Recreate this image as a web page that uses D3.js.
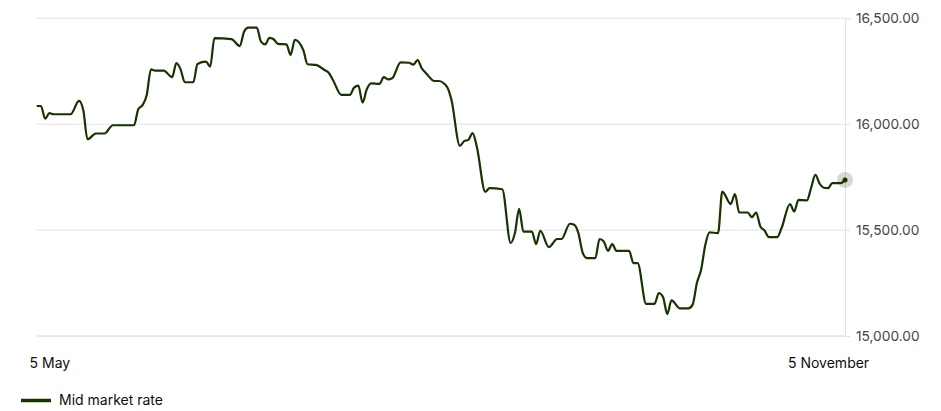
<!DOCTYPE html>
<html>
<head>
<meta charset="utf-8">
<script src="https://cdn.jsdelivr.net/npm/d3@7/dist/d3.min.js"></script>
<style>
  html, body { margin: 0; padding: 0; background: #fff; }
  svg { display: block; font-family: Inter, "Noto Sans", sans-serif; }
</style>
</head>
<body>
<svg id="chart" width="941" height="411"></svg>
<script>
const dates = [
  "2023-05-02","2023-05-03","2023-05-04","2023-05-05","2023-05-06","2023-05-10","2023-05-12","2023-05-13",
  "2023-05-14","2023-05-16","2023-05-18","2023-05-20","2023-05-25","2023-05-26","2023-05-27","2023-05-28",
  "2023-05-29","2023-05-30","2023-06-01","2023-06-03","2023-06-04","2023-06-05","2023-06-06","2023-06-08",
  "2023-06-09","2023-06-11","2023-06-12","2023-06-13","2023-06-17","2023-06-19","2023-06-20","2023-06-21",
  "2023-06-23","2023-06-24","2023-06-25","2023-06-26","2023-06-27","2023-06-28","2023-06-30","2023-07-01",
  "2023-07-02","2023-07-04","2023-07-05","2023-07-07","2023-07-09","2023-07-10","2023-07-11","2023-07-13",
  "2023-07-15","2023-07-16","2023-07-17","2023-07-18","2023-07-19","2023-07-20","2023-07-22","2023-07-23",
  "2023-07-24","2023-07-25","2023-07-27","2023-07-29","2023-07-30","2023-07-31","2023-08-01","2023-08-02",
  "2023-08-04","2023-08-05","2023-08-07","2023-08-08","2023-08-10","2023-08-11","2023-08-12","2023-08-13",
  "2023-08-14","2023-08-16","2023-08-17","2023-08-20","2023-08-22","2023-08-23","2023-08-24","2023-08-25",
  "2023-08-27","2023-08-28","2023-08-29","2023-08-31","2023-09-02","2023-09-03","2023-09-05","2023-09-06",
  "2023-09-07","2023-09-08","2023-09-09","2023-09-11","2023-09-12","2023-09-13","2023-09-14","2023-09-15",
  "2023-09-16","2023-09-19","2023-09-20","2023-09-21","2023-09-23","2023-09-25","2023-09-26","2023-09-27",
  "2023-09-28","2023-09-29","2023-10-01","2023-10-03","2023-10-04","2023-10-05","2023-10-06","2023-10-07",
  "2023-10-08","2023-10-10","2023-10-11","2023-10-13","2023-10-14","2023-10-15","2023-10-17","2023-10-18",
  "2023-10-19","2023-10-20","2023-10-21","2023-10-22","2023-10-24","2023-10-25","2023-10-27","2023-10-28",
  "2023-10-29","2023-10-31","2023-11-01","2023-11-02","2023-11-03","2023-11-04","2023-11-05","2023-11-06",
  "2023-11-08","2023-11-09"
];
const rates = [
  16086,16086,16026,16052,16047,16047,16110,16067,
  15929,15956,15956,15995,15995,16071,16090,16138,
  16259,16253,16253,16222,16288,16259,16198,16198,
  16284,16295,16272,16406,16402,16369,16437,16456,
  16456,16390,16377,16408,16401,16379,16377,16327,
  16398,16350,16283,16280,16256,16243,16209,16138,
  16138,16173,16182,16102,16165,16193,16190,16222,
  16212,16217,16292,16290,16281,16303,16264,16241,
  16204,16204,16175,16115,15898,15920,15926,15958,
  15894,15681,15698,15693,15439,15486,15600,15493,
  15493,15434,15497,15420,15458,15458,15530,15525,
  15486,15394,15368,15368,15458,15446,15402,15434,
  15402,15402,15344,15344,15152,15152,15203,15184,
  15104,15168,15130,15130,15148,15250,15313,15431,
  15489,15486,15682,15623,15670,15583,15583,15561,
  15583,15517,15498,15467,15467,15509,15623,15588,
  15643,15640,15700,15761,15720,15700,15698,15722,
  15722,15737
];
const yTicks = [15000, 15500, 16000, 16500];
const xTickDates = ["2023-05-05", "2023-11-05"];
const xTickLabels = ["5 May", "5 November"];
const seriesName = "Mid market rate";

const parse = d3.timeParse("%Y-%m-%d");
const data = dates.map((d, i) => ({ date: parse(d), value: rates[i] }));

const svg = d3.select("#chart");
const plotLeft = 36.7, plotRight = 845, plotTop = 18.3, plotBottom = 336;
const lineColor = "#163300";

const x = d3.scaleTime().domain(d3.extent(data, d => d.date)).range([plotLeft, plotRight]);
const y = d3.scaleLinear().domain([15000, 16500]).range([plotBottom, plotTop]);

// gridlines
svg.append("g").selectAll("line").data(yTicks).join("line")
  .attr("x1", plotLeft).attr("x2", plotRight)
  .attr("y1", d => y(d)).attr("y2", d => y(d))
  .attr("stroke", d => d === 15000 ? "#d4d4d4" : "#e2e2e2")
  .attr("stroke-width", 1);

// right axis
const yAxis = d3.axisRight(y).tickValues(yTicks).tickSize(5).tickPadding(6)
  .tickFormat(d3.format(",.2f"));
const gy = svg.append("g").attr("transform", `translate(${plotRight},0)`).call(yAxis);
gy.select(".domain").attr("stroke", "#e2e2e2");
gy.selectAll(".tick line").attr("stroke", "#e2e2e2");
gy.selectAll(".tick text").attr("fill", "#454745").style("font-size", "13.7px")
  .style("font-family", "Inter, 'Noto Sans', sans-serif");

// bottom labels
const xAxis = d3.axisBottom(x).tickValues(xTickDates.map(parse))
  .tickFormat((d, i) => xTickLabels[i]).tickSize(0).tickPadding(22);
const gx = svg.append("g").attr("transform", `translate(0,${plotBottom})`).call(xAxis);
gx.select(".domain").remove();
gx.selectAll(".tick text").attr("fill", "#0e0f0c").style("font-size", "14px")
  .style("font-family", "Inter, 'Noto Sans', sans-serif");

// line
const line = d3.line().x(d => x(d.date)).y(d => y(d.value)).curve(d3.curveMonotoneX);
svg.append("path").datum(data)
  .attr("fill", "none").attr("stroke", lineColor).attr("stroke-width", 2.2)
  .attr("stroke-linejoin", "round").attr("d", line);

// end marker
const last = data[data.length - 1];
svg.append("circle").attr("cx", x(last.date)).attr("cy", y(last.value)).attr("r", 8)
  .attr("fill", "rgba(22,51,0,0.18)");
svg.append("circle").attr("cx", x(last.date)).attr("cy", y(last.value)).attr("r", 2.5)
  .attr("fill", lineColor);

// legend
const lg = svg.append("g").attr("transform", "translate(21,400.5)");
lg.append("line").attr("x1", 0).attr("x2", 30).attr("y1", 0).attr("y2", 0)
  .attr("stroke", lineColor).attr("stroke-width", 3.5);
lg.append("text").attr("x", 38).attr("y", 0).attr("dy", "0.35em")
  .attr("fill", "#0e0f0c").style("font-size", "14px").text(seriesName);
</script>
</body>
</html>
